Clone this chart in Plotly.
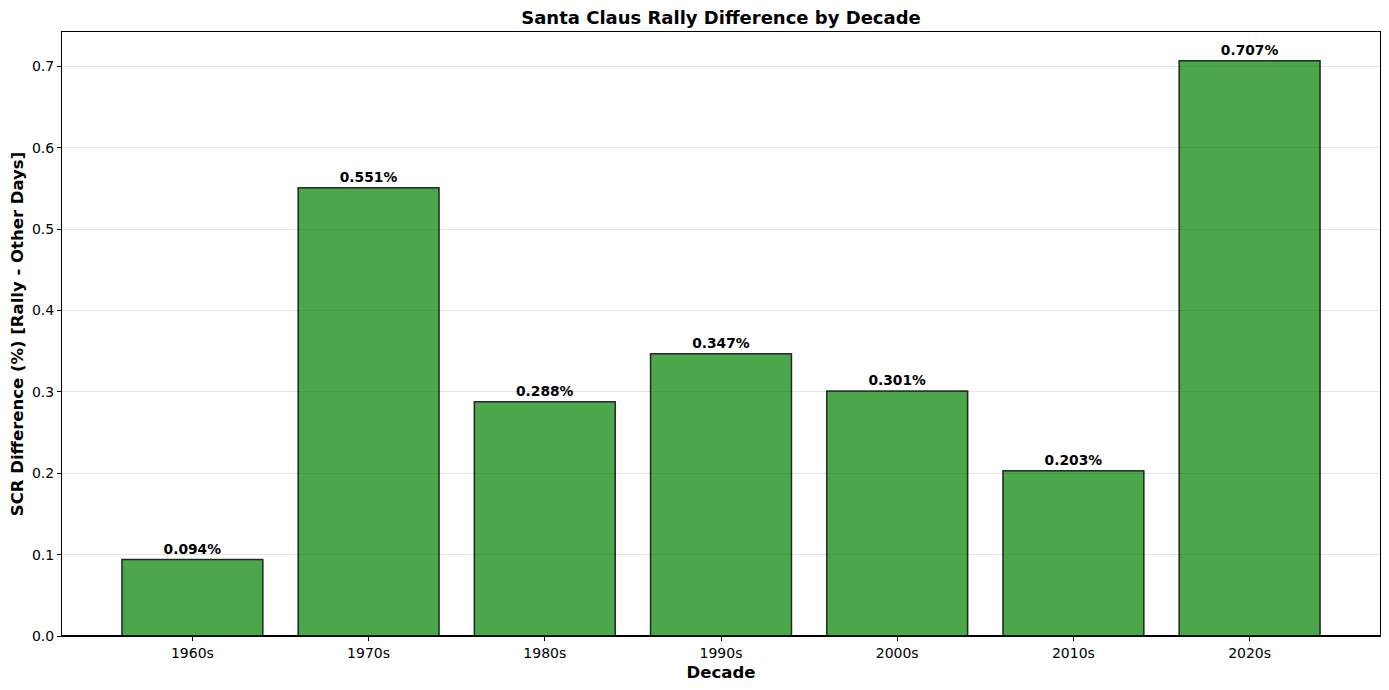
import plotly.graph_objects as go

decades = ["1960s", "1970s", "1980s", "1990s", "2000s", "2010s", "2020s"]
scr_diff = [0.094, 0.551, 0.288, 0.347, 0.301, 0.203, 0.707]
labels = [f"{v:.3f}%" for v in scr_diff]

FONT = "DejaVu Sans"

fig = go.Figure()
fig.add_trace(go.Bar(
    x=list(range(len(decades))),
    y=scr_diff,
    width=0.8,
    marker=dict(color="rgba(0,128,0,0.7)", line=dict(color="rgba(0,0,0,0.8)", width=1.5)),
    text=labels,
    textposition="outside",
    textfont=dict(family=FONT, size=13.8, color="black", weight="bold"),
    cliponaxis=False,
))

fig.update_layout(
    width=1389, height=690,
    margin=dict(l=54, r=17, t=24, b=62),
    plot_bgcolor="white", paper_bgcolor="white",
    font=dict(family=FONT, size=14, color="black"),
    title=dict(text="<b>Santa Claus Rally Difference by Decade</b>", x=0.5, xanchor="center",
               xref="paper", yref="container", y=1 - 10 / 690, yanchor="middle",
               font=dict(family=FONT, size=18, color="black")),
    showlegend=False,
    bargap=0.2,
)
fig.update_xaxes(
    tickmode="array", tickvals=list(range(len(decades))), ticktext=decades,
    range=[-0.74, 6.74], showgrid=False, showline=True, linecolor="black", linewidth=1, mirror=True,
    ticks="outside", ticklen=4, tickcolor="black", automargin=False,
    title=dict(text="<b>Decade</b>", font=dict(family=FONT, size=16.5), standoff=6),
    zeroline=False,
)
fig.update_yaxes(
    range=[0, 0.7424], dtick=0.1, tickformat=".1f",
    showgrid=True, gridcolor="rgba(0,0,0,0.1)", gridwidth=1,
    showline=True, linecolor="black", linewidth=1, mirror=True,
    ticks="outside", ticklen=4, tickcolor="black", automargin=False,
    zeroline=True, zerolinecolor="black", zerolinewidth=1.5,
    title=dict(text="<b>SCR Difference (%) [Rally - Other Days]</b>", font=dict(family=FONT, size=16.5), standoff=6),
)

fig.write_html("out.html")
